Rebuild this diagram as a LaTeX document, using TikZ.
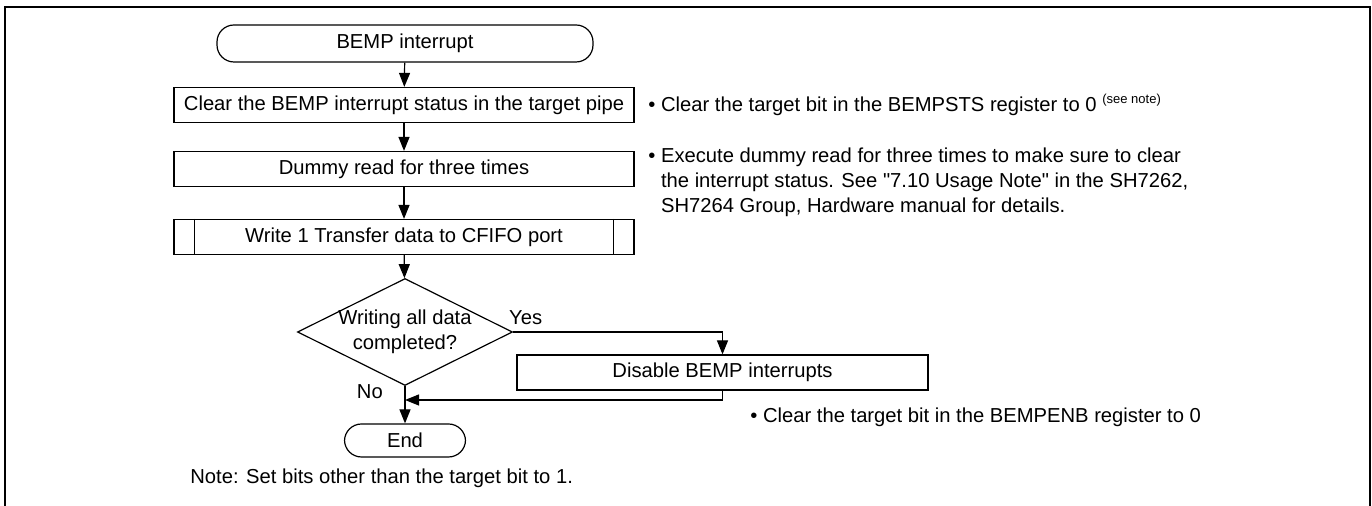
\documentclass[tikz,border=0pt]{standalone}
\usepackage{fontspec}
\setmainfont{Liberation Sans}
\usetikzlibrary{positioning, arrows.meta, shapes.geometric, calc}

\begin{document}
\begin{tikzpicture}[
    x=0.5pt, y=-0.5pt,
    font=\fontsize{10.1}{12.5}\selectfont,
    proc/.style={rectangle, draw=black, line width=0.6pt, minimum width=230pt, minimum height=17.5pt, inner sep=0pt},
    term/.style={rectangle, rounded corners=8.5pt, draw=black, line width=0.6pt, minimum height=17.5pt, inner sep=0pt},
    decision/.style={diamond, draw=black, line width=0.6pt, minimum width=107.5pt, minimum height=53.5pt, inner sep=0pt},
    flow/.style={-{Triangle[length=7pt, width=5.5pt]}, line width=0.6pt},
    remark/.style={anchor=west, align=left, inner sep=0pt}
]
\useasboundingbox (0,0) rectangle (1372,506);

% Frame
\draw[line width=1pt] (5,520) -- (5,7) -- (1370,7) -- (1370,520);

% Flow steps
\node[term, minimum width=188pt, minimum height=18.5pt] (start) at (405,43.5) {BEMP interrupt};
\node[proc] (clr) at (404,105) {Clear the BEMP interrupt status in the target pipe};
\node[proc] (dum) at (404,169) {Dummy read for three times};
\node[proc] (wr) at (404,237) {Write 1 Transfer data to CFIFO port};
\draw[line width=0.6pt] ([xshift=10.5pt]wr.north west) -- ([xshift=10.5pt]wr.south west);
\draw[line width=0.6pt] ([xshift=-10.5pt]wr.north east) -- ([xshift=-10.5pt]wr.south east);
\node[decision, label={[align=center]center:Writing all data\\completed?}] (dec) at (405,332) {};
\node[proc, minimum width=205.5pt] (dis) at (722.5,372.5) {Disable BEMP interrupts};
\node[term, minimum width=60.5pt, minimum height=16.5pt] (end) at (405,440.5) {End};
\coordinate (join) at (405,400);

% Connectors
\draw[flow] (start) -- (clr);
\draw[flow] (clr) -- (dum);
\draw[flow] (dum) -- (wr);
\draw[flow] (wr) -- (dec);
\draw[flow] (dec.east) -| node[pos=0.03, above] {Yes} (dis.north);
\draw[flow] (dec.south) -- node[pos=0.15, left=7.5pt] {No} (end);
\draw[flow] (dis.south) |- (join);

% Remarks
\node[remark] (rm1) at (648,105) {• Clear the target bit in the BEMPSTS register to 0 \raisebox{4pt}{\fontsize{6.5}{7}\selectfont(see note)}};
\node[remark] (rm2) at (648,182) {• Execute dummy read for three times to make sure to clear\\
    \phantom{• }the interrupt status. See \textquotedbl 7.10 Usage Note\textquotedbl{} in the SH7262,\\
    \phantom{• }SH7264 Group, Hardware manual for details.};
\node[remark] (rm3) at (750,417) {• Clear the target bit in the BEMPENB register to 0};
\node[remark] (rm4) at (190,478) {Note: Set bits other than the target bit to 1.};

\end{tikzpicture}
\end{document}
